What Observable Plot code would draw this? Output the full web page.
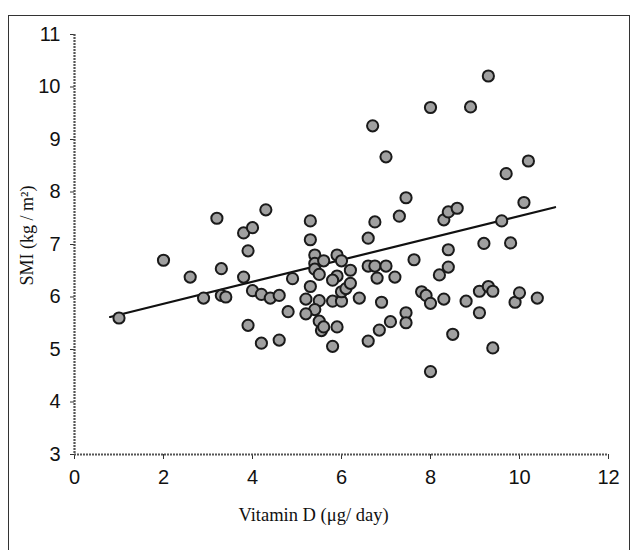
<!DOCTYPE html>
<html>
<head>
<meta charset="utf-8">
<script src="https://cdn.jsdelivr.net/npm/d3@7"></script>
<script src="https://cdn.jsdelivr.net/npm/@observablehq/plot@0.6"></script>
<style>
  html, body { margin: 0; padding: 0; background: #fff; }
  #wrap { position: relative; width: 633px; height: 550px; overflow: hidden; }
  #frame { position: absolute; left: 8px; top: 15px; width: 620px; height: 600px; border: 1.5px solid #333; pointer-events: none; }
</style>
</head>
<body>
<div id="wrap"><div id="frame"></div></div>
<script>
const vitaminD = [1.0, 2.0, 2.6, 2.9, 3.2, 3.3, 3.3, 3.4, 3.8, 4.0, 3.9, 3.8, 4.0, 3.9, 4.3, 4.2, 4.4, 4.6, 4.2, 4.6,
  4.8, 4.9, 5.3, 5.3, 5.4, 5.4, 5.4, 5.5, 5.6, 5.3, 5.2, 5.5, 5.4, 5.2, 5.5, 5.55, 5.6, 5.8, 5.9, 6.0,
  5.9, 5.8, 5.8, 6.0, 6.0, 6.1, 6.2, 6.2, 5.9, 6.4, 6.6, 6.6, 6.75, 6.75, 6.7, 6.8, 6.6, 6.85, 6.9, 7.0,
  7.0, 7.1, 7.2, 7.3, 7.45, 7.45, 7.45, 7.63, 7.8, 7.9, 8.0, 8.0, 8.0, 8.2, 8.3, 8.4, 8.6, 8.4, 8.4, 8.3,
  8.5, 8.8, 8.9, 9.3, 9.2, 9.1, 9.3, 9.4, 9.1, 9.4, 9.6, 9.7, 9.8, 9.9, 10.0, 10.1, 10.2, 10.4];
const smi = [5.6, 6.7, 6.38, 5.98, 7.5, 6.54, 6.03, 6.0, 7.22, 7.32, 6.88, 6.38, 6.12, 5.46, 7.66, 6.05, 5.98, 6.03, 5.12, 5.18,
  5.72, 6.35, 7.45, 7.09, 6.8, 6.64, 6.53, 6.43, 6.69, 6.2, 5.96, 5.93, 5.76, 5.68, 5.54, 5.36, 5.43, 5.06, 6.8, 6.69,
  6.4, 6.32, 5.92, 5.92, 6.1, 6.16, 6.26, 6.51, 5.43, 5.98, 7.12, 6.59, 6.59, 7.43, 9.26, 6.36, 5.16, 5.37, 5.9, 8.67,
  6.59, 5.53, 6.38, 7.54, 7.89, 5.7, 5.51, 6.71, 6.1, 6.03, 5.88, 9.61, 4.58, 6.42, 7.47, 7.62, 7.69, 6.9, 6.57, 5.96,
  5.29, 5.92, 9.62, 10.21, 7.02, 6.11, 6.2, 6.11, 5.7, 5.03, 7.45, 8.35, 7.03, 5.9, 6.08, 7.8, 8.59, 5.98];
const fitX = [0.8, 10.8];
const fitY = [5.62, 7.71];
const xTicks = [0, 2, 4, 6, 8, 10, 12];
const yTicks = [3, 4, 5, 6, 7, 8, 9, 10, 11];
const xTitle = "Vitamin D (μg/ day)";
const yTitle = "SMI (kg / m²)";

const points = vitaminD.map((v, i) => ({x: v, y: smi[i]}));
const fit = fitX.map((v, i) => ({x: v, y: fitY[i]}));
const serif = "'Liberation Serif', 'Times New Roman', serif";

const chart = Plot.plot({
  width: 633,
  height: 550,
  marginLeft: 74,
  marginRight: 25,
  marginTop: 34,
  marginBottom: 96,
  style: {fontFamily: "'Liberation Sans', Arial, sans-serif", fontSize: "20px", background: "transparent", color: "#111"},
  x: {domain: [0, 12], label: null},
  y: {domain: [3, 11], label: null},
  marks: [
    Plot.axisX({ticks: xTicks, tickSize: 5, tickPadding: 10, fontSize: 20, label: null, stroke: "#333"}),
    Plot.axisY({ticks: yTicks, tickSize: 4, tickPadding: 10, fontSize: 20, label: null, stroke: "#333"}),
    Plot.ruleX([0], {stroke: "#555", strokeWidth: 2.2, strokeDasharray: "2,1"}),
    Plot.ruleY([3], {stroke: "#555", strokeWidth: 2.2, strokeDasharray: "2,1"}),
    Plot.line(fit, {x: "x", y: "y", stroke: "#111", strokeWidth: 2.2}),
    Plot.dot(points, {x: "x", y: "y", r: 5.6, fill: "#a0a0a0", stroke: "#1a1a1a", strokeWidth: 2}),
    Plot.text([xTitle], {frameAnchor: "bottom", dx: -28, dy: 66, fontFamily: serif, fontSize: 18.5, fill: "#111"}),
    Plot.text([yTitle], {frameAnchor: "left", rotate: -90, dx: -47, dy: 41, fontFamily: serif, fontSize: 18, fill: "#111"})
  ]
});
document.getElementById("wrap").prepend(chart);
</script>
</body>
</html>
